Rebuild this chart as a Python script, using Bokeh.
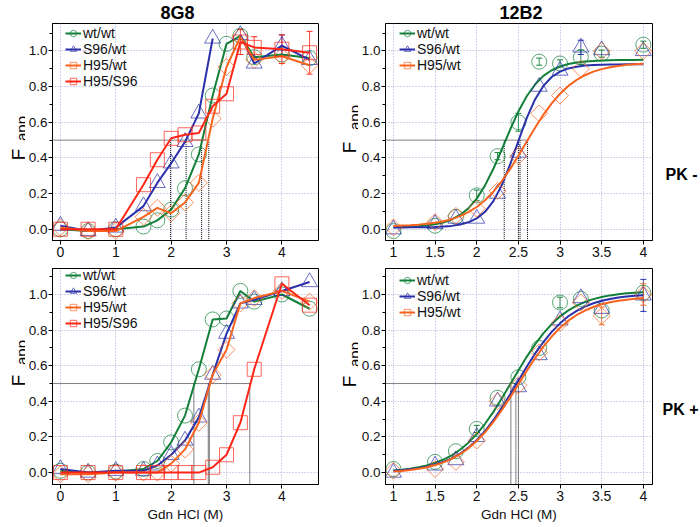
import math
from bokeh.plotting import figure
from bokeh.layouts import column, row
from bokeh.core.properties import value
from bokeh.models import (ColumnDataSource, Label, Legend, LegendItem, FixedTicker,
                          NumeralTickFormatter, CustomJSTickFormatter, Whisker, TeeHead, Range1d)
from bokeh.embed import file_html
from bokeh.resources import INLINE

NaN = float("nan")
FONT = "Liberation Sans"

# ---------------- data ----------------
series_names = ["wt/wt", "S96/wt", "H95/wt", "H95/S96"]

gdn_8g8 = [0, 0.5, 1, 1.5, 1.75, 2, 2.25, 2.5, 2.75, 3, 3.25, 3.5, 4, 4.5]
gdn_12b2 = [1, 1.5, 1.75, 2, 2.25, 2.5, 2.75, 3, 3.25, 3.5, 4]
fit_gdn = [1.0, 1.1, 1.2, 1.3, 1.4, 1.5, 1.6, 1.7, 1.8, 1.9, 2.0, 2.1, 2.2, 2.3, 2.4, 2.5,
           2.6, 2.7, 2.8, 2.9, 3.0, 3.1, 3.2, 3.3, 3.4, 3.5, 3.6, 3.7, 3.8, 3.9, 4.0]

y_major = [0.0, 0.2, 0.4, 0.6, 0.8, 1.0]
y_minor = [0.1, 0.3, 0.5, 0.7, 0.9, 1.1]
x_ticks_8g8 = [0, 1, 2, 3, 4]
x_ticks_12b2 = [1, 1.5, 2, 2.5, 3, 3.5, 4]
HALF = 0.5

# 8G8, PK -
g8m_wt = [0.0, -0.01, 0.0, 0.015, 0.05, 0.11, 0.23, 0.42, 0.75, 1.04, 1.085, 0.965, 0.98, 0.96]
g8m_s96 = [0.02, -0.01, 0.01, 0.13, 0.26, 0.37, 0.49, 0.65, 1.07, NaN, 1.09, 0.93, 1.03, 0.95]
g8m_h95 = [0.01, -0.01, -0.01, 0.07, 0.12, 0.09, 0.15, 0.26, 0.62, 0.91, 1.08, 0.95, 0.97, 0.92]
g8m_h95s96 = [0.0, 0.0, 0.0, 0.25, 0.39, 0.51, 0.53, 0.54, 0.69, 0.76, 1.05, 1.02, 1.01, 0.99]
g8m_h95s96_err = [0, 0, 0, 0, 0, 0, 0, 0, 0, 0, 0.07, 0.06, 0.08, 0.12]
g8m_s96_err = [0, 0, 0, 0, 0, 0, 0, 0, 0, 0, 0, 0, 0.06, 0]
g8m_mid = [1.99, 2.27, 2.55, 2.68]

# 12B2, PK -
b12m_wt = [-0.01, 0.02, 0.07, 0.19, 0.41, 0.60, 0.94, 0.93, 0.965, 0.985, 1.035]
b12m_s96 = [0.0, 0.03, 0.06, 0.06, 0.20, 0.43, 0.80, 0.89, 1.02, 1.005, 1.0]
b12m_h95 = [0.01, 0.04, 0.075, 0.115, 0.215, 0.41, 0.65, 0.75, 0.90, 1.0, 1.0]
b12m_wt_err = [0, 0, 0, 0.03, 0.02, 0.05, 0.02, 0.02, 0.04, 0.02, 0.02]
b12m_s96_err = [0, 0, 0, 0, 0, 0, 0, 0, 0.04, 0, 0]
b12m_wt_fit = [0.012, 0.013, 0.014, 0.017, 0.021, 0.028, 0.038, 0.055, 0.080, 0.117, 0.172,
               0.246, 0.339, 0.446, 0.558, 0.661, 0.746, 0.812, 0.860, 0.892, 0.913, 0.927,
               0.935, 0.941, 0.944, 0.946, 0.948, 0.949, 0.949, 0.949, 0.950]
b12m_s96_fit = [0.010, 0.010, 0.011, 0.011, 0.012, 0.013, 0.015, 0.019, 0.027, 0.039, 0.061,
                0.098, 0.158, 0.246, 0.362, 0.494, 0.623, 0.728, 0.804, 0.854, 0.884, 0.902,
                0.912, 0.918, 0.921, 0.923, 0.924, 0.924, 0.925, 0.925, 0.925]
b12m_h95_fit = [0.019, 0.021, 0.023, 0.026, 0.031, 0.037, 0.045, 0.057, 0.074, 0.096, 0.125,
                0.163, 0.211, 0.269, 0.337, 0.412, 0.491, 0.569, 0.642, 0.706, 0.760, 0.804,
                0.838, 0.864, 0.884, 0.898, 0.909, 0.916, 0.922, 0.925, 0.928]
b12m_mid = [2.33, 2.50, 2.52, 2.61]

# 8G8, PK +
g8p_wt = [0.01, 0.0, 0.005, 0.02, 0.065, 0.17, 0.32, 0.58, 0.86, 0.865, 1.02, 0.96, 1.0, 0.92]
g8p_s96 = [0.02, 0.0, 0.01, 0.01, 0.04, 0.10, 0.18, 0.31, 0.55, 0.78, 0.95, 0.97, 1.02, 1.07]
g8p_h95 = [-0.01, -0.01, 0.0, 0.0, 0.0, 0.05, 0.13, 0.28, 0.55, 0.69, 0.95, 0.98, 1.02, 0.96]
g8p_h95s96 = [0.0, 0.0, 0.0, 0.0, 0.0, 0.0, 0.0, 0.0, 0.03, 0.10, 0.28, 0.58, 1.06, 0.94]
g8p_mid = [2.41, 2.67, 2.69, 3.42]

# 12B2, PK +
b12p_wt = [0.02, 0.06, 0.12, 0.245, 0.42, 0.535, 0.70, 0.955, 0.975, 0.91, 1.01]
b12p_s96 = [0.0, 0.04, 0.07, 0.20, 0.40, 0.48, 0.66, 0.855, 0.98, 0.92, 0.995]
b12p_h95 = [0.01, 0.02, 0.06, 0.18, 0.40, 0.49, 0.675, 0.84, 0.955, 0.88, 1.0]
b12p_wt_err = [0, 0, 0, 0.02, 0, 0, 0, 0.03, 0, 0, 0]
b12p_s96_err = [0, 0, 0, 0, 0, 0, 0, 0, 0, 0, 0.09]
b12p_h95_err = [0, 0, 0, 0, 0, 0, 0, 0, 0, 0.05, 0.06]
b12p_wt_fit = [0.012, 0.016, 0.022, 0.030, 0.040, 0.055, 0.073, 0.097, 0.128, 0.168, 0.216,
               0.274, 0.341, 0.416, 0.494, 0.573, 0.650, 0.720, 0.782, 0.834, 0.877, 0.911,
               0.938, 0.959, 0.974, 0.986, 0.995, 1.002, 1.007, 1.010, 1.013]
b12p_s96_fit = [0.010, 0.013, 0.018, 0.024, 0.033, 0.045, 0.060, 0.080, 0.106, 0.140, 0.182,
                0.233, 0.294, 0.363, 0.438, 0.516, 0.594, 0.667, 0.733, 0.790, 0.838, 0.878,
                0.908, 0.932, 0.951, 0.965, 0.975, 0.983, 0.989, 0.993, 0.996]
b12p_h95_fit = [0.006, 0.009, 0.014, 0.021, 0.030, 0.042, 0.057, 0.077, 0.103, 0.136, 0.177,
                0.226, 0.284, 0.350, 0.421, 0.496, 0.571, 0.642, 0.707, 0.764, 0.813, 0.853,
                0.885, 0.910, 0.930, 0.945, 0.956, 0.965, 0.971, 0.976, 0.980]
b12p_mid = [2.41, 2.47, 2.50]

titles = ["8G8", "12B2"]
row_labels = ["PK -", "PK +"]
x_title = "Gdn HCl (M)"
y_title = ["F", "app"]

# ---------------- styles ----------------
colors = {"wt/wt": "#13803a", "S96/wt": "#2a30aa", "H95/wt": "#f8641e", "H95/S96": "#ff2618"}
markers = {"wt/wt": ("circle", 15, 0.0), "S96/wt": ("triangle", 16, 0.0),
           "H95/wt": ("square", 12, math.pi / 4), "H95/S96": ("square", 14, 0.0)}

TOP_BT, TOP_BB = 23, 22      # top row: border above / below frame
BOT_BT, BOT_BB = 6, 43       # bottom row


def make_panel(width, height, bl, br, bt, bb, xr, yr, xticks):
    p = figure(width=width, height=height, x_range=Range1d(*xr), y_range=Range1d(*yr),
               output_backend="svg", toolbar_location=None,
               min_border_left=bl, min_border_right=br, min_border_top=bt, min_border_bottom=bb,
               background_fill_color="white", border_fill_color="white")
    p.outline_line_color = "black"
    p.outline_line_width = 1
    p.xaxis.ticker = FixedTicker(ticks=xticks)
    p.yaxis.ticker = FixedTicker(ticks=y_major, minor_ticks=y_minor)
    p.yaxis.formatter = NumeralTickFormatter(format="0.0")
    p.xaxis.formatter = CustomJSTickFormatter(code="return String(tick);")
    for ax in (p.xaxis[0], p.yaxis[0]):
        ax.major_label_text_font = FONT
        ax.major_label_text_font_size = "14px"
        ax.major_label_text_color = "#111111"
        ax.axis_line_color = "black"
        ax.major_tick_line_color = "black"
        ax.minor_tick_line_color = "black"
        ax.major_tick_in = 0
        ax.major_tick_out = 4
        ax.minor_tick_in = 0
        ax.minor_tick_out = 3
        ax.major_label_standoff = 1
    p.yaxis.major_label_text_font_size = "13.5px"
    p.xaxis.major_label_standoff = 2
    p.xaxis.minor_tick_line_color = None
    for g in (p.xgrid[0], p.ygrid[0]):
        g.grid_line_color = "#9d9dd8"
        g.grid_line_dash = "1 2"
        g.grid_line_width = 1
        g.grid_line_alpha = 0.9
    return p


def make_strip(width, height, bt, bb):
    # ranges in pixels of the strip's frame, so label positions are pixel offsets
    s = figure(width=width, height=height, x_range=Range1d(0, width),
               y_range=Range1d(0, height - bt - bb),
               x_axis_type=None, y_axis_type=None, output_backend="svg",
               toolbar_location=None, min_border=0,
               min_border_left=0, min_border_right=0, min_border_top=bt, min_border_bottom=bb,
               outline_line_color=None, background_fill_color="white",
               border_fill_color="white")
    return s


def draw_mid(p, mids, xr, yr):
    p.segment(x0=[xr[0]], y0=[HALF], x1=[max(mids)], y1=[HALF],
              line_color="black", line_dash="1 1", line_width=1)
    p.segment(x0=mids, y0=[HALF] * len(mids), x1=mids, y1=[yr[0]] * len(mids),
              line_color="black", line_dash="1 1", line_width=1)


def draw_series(p, name, xs, ys, err=None, fit_x=None, fit_y=None):
    c = colors[name]
    mk, sz, ang = markers[name]
    src = ColumnDataSource(dict(x=xs, y=ys))
    sc = p.scatter("x", "y", source=src, marker=mk, size=sz, angle=ang, fill_color=None,
                   line_color=c, line_alpha=0.7, line_width=1)
    if err is not None:
        idx = [i for i, e in enumerate(err) if e > 0]
        wsrc = ColumnDataSource(dict(x=[xs[i] for i in idx],
                                     lo=[ys[i] - err[i] for i in idx],
                                     hi=[ys[i] + err[i] for i in idx]))
        p.add_layout(Whisker(source=wsrc, base="x", lower="lo", upper="hi", dimension="height",
                             line_color=c, line_width=1, line_alpha=0.85,
                             upper_head=TeeHead(size=6, line_color=c, line_width=1),
                             lower_head=TeeHead(size=6, line_color=c, line_width=1)))
    if fit_x is not None:
        ln = p.line(fit_x, fit_y, line_color=c, line_width=2)
    else:
        ln = p.line("x", "y", source=src, line_color=c, line_width=2)
    return LegendItem(label=name, renderers=[ln, sc])


def add_legend(p, items, x, top_off, frame_h):
    rh = 16
    leg = Legend(items=items, location=(x, frame_h - top_off - rh * len(items)),
                 label_text_font=FONT, label_text_font_size="14px", label_text_color="#111111",
                 glyph_width=16, glyph_height=rh, label_height=rh, label_standoff=2,
                 spacing=0, padding=0, margin=0,
                 border_line_alpha=0, background_fill_alpha=0)
    p.add_layout(leg)


def add_text(p, x, y, text, size, bold=False, align="left"):
    p.add_layout(Label(x=x, y=y, x_units="screen", y_units="screen", text=text,
                       text_font=FONT, text_font_size=size,
                       text_font_style="bold" if bold else "normal",
                       text_color="black", text_align=align,
                       text_baseline="alphabetic"))


def add_ylabel(s, fx, fy, ax, ay):
    # rotated y-axis title "F" with subscript "app", drawn as text glyphs
    s.text(x=[fx], y=[fy], text=[y_title[0]], angle=math.pi / 2,
           text_font=value(FONT), text_font_size=value("19px"), text_color="black",
           text_align="center", text_baseline="alphabetic")
    s.text(x=[ax], y=[ay], text=[y_title[1]], angle=math.pi / 2,
           text_font=value(FONT), text_font_size=value("15px"), text_color="black",
           text_align="center", text_baseline="alphabetic")


def set_title(p, text, offset):
    p.title.text = text
    p.title.align = "left"
    p.title.offset = offset
    p.title.standoff = 1
    p.title.text_font = FONT
    p.title.text_font_size = "18px"
    p.title.text_font_style = "bold"
    p.title.text_color = "black"


def set_xlabel(p):
    p.xaxis.axis_label = x_title
    p.xaxis.axis_label_text_font = FONT
    p.xaxis.axis_label_text_font_size = "13.5px"
    p.xaxis.axis_label_text_font_style = "normal"
    p.xaxis.axis_label_text_color = "#111111"
    p.xaxis.axis_label_standoff = 3


# ---------------- panels ----------------
XR_L = (-0.143, 4.661)
XR_R = (0.905, 4.110)
YR_T = (-0.063, 1.154)
YR_B = (-0.067, 1.146)

# top-left: 8G8, PK -
p1 = make_panel(305, 262, 24, 12, TOP_BT, TOP_BB, XR_L, YR_T, x_ticks_8g8)
set_title(p1, titles[0], 108)
draw_mid(p1, g8m_mid, XR_L, YR_T)
it1 = [draw_series(p1, "wt/wt", gdn_8g8, g8m_wt),
       draw_series(p1, "S96/wt", gdn_8g8, g8m_s96, g8m_s96_err),
       draw_series(p1, "H95/wt", gdn_8g8, g8m_h95),
       draw_series(p1, "H95/S96", gdn_8g8, g8m_h95s96, g8m_h95s96_err)]
add_legend(p1, it1, 13, 2, 217)

# top-right: 12B2, PK -
p2 = make_panel(295, 262, 24, 1, TOP_BT, TOP_BB, XR_R, YR_T, x_ticks_12b2)
set_title(p2, titles[1], 114)
draw_mid(p2, b12m_mid, XR_R, YR_T)
it2 = [draw_series(p2, "wt/wt", gdn_12b2, b12m_wt, b12m_wt_err, fit_gdn, b12m_wt_fit),
       draw_series(p2, "S96/wt", gdn_12b2, b12m_s96, b12m_s96_err, fit_gdn, b12m_s96_fit),
       draw_series(p2, "H95/wt", gdn_12b2, b12m_h95, None, fit_gdn, b12m_h95_fit)]
add_legend(p2, it2, 14, 2, 217)

# bottom-left: 8G8, PK +
p3 = make_panel(305, 265, 24, 12, BOT_BT, BOT_BB, XR_L, YR_B, x_ticks_8g8)
set_xlabel(p3)
draw_mid(p3, g8p_mid, XR_L, YR_B)
it3 = [draw_series(p3, "wt/wt", gdn_8g8, g8p_wt),
       draw_series(p3, "S96/wt", gdn_8g8, g8p_s96),
       draw_series(p3, "H95/wt", gdn_8g8, g8p_h95),
       draw_series(p3, "H95/S96", gdn_8g8, g8p_h95s96)]
add_legend(p3, it3, 13, -1, 216)

# bottom-right: 12B2, PK +
p4 = make_panel(295, 265, 24, 1, BOT_BT, BOT_BB, XR_R, YR_B, x_ticks_12b2)
set_xlabel(p4)
draw_mid(p4, b12p_mid, XR_R, YR_B)
it4 = [draw_series(p4, "wt/wt", gdn_12b2, b12p_wt, b12p_wt_err, fit_gdn, b12p_wt_fit),
       draw_series(p4, "S96/wt", gdn_12b2, b12p_s96, b12p_s96_err, fit_gdn, b12p_s96_fit),
       draw_series(p4, "H95/wt", gdn_12b2, b12p_h95, b12p_h95_err, fit_gdn, b12p_h95_fit)]
add_legend(p4, it4, 14, 4, 216)

# ---------------- label strips (positions in pixels from the frame's bottom-left) --------
yl1 = make_strip(25, 262, TOP_BT, TOP_BB)
add_ylabel(yl1, 17.5, 86, 21, 112)
yl2 = make_strip(28, 262, TOP_BT, TOP_BB)
add_ylabel(yl2, 19, 93, 23.5, 123)
yl3 = make_strip(25, 265, BOT_BT, BOT_BB)
add_ylabel(yl3, 17.5, 104, 21, 132)
yl4 = make_strip(28, 265, BOT_BT, BOT_BB)
add_ylabel(yl4, 19, 103, 23.5, 130)

pk1 = make_strip(47, 262, TOP_BT, TOP_BB)
add_text(pk1, 44, 66.5, row_labels[0], "16px", bold=True, align="right")
pk2 = make_strip(47, 265, BOT_BT, BOT_BB)
add_text(pk2, 45, 75, row_labels[1], "16px", bold=True, align="right")

layout = column(row(yl1, p1, yl2, p2, pk1), row(yl3, p3, yl4, p4, pk2))
open("out.html", "w").write(file_html(layout, INLINE))
